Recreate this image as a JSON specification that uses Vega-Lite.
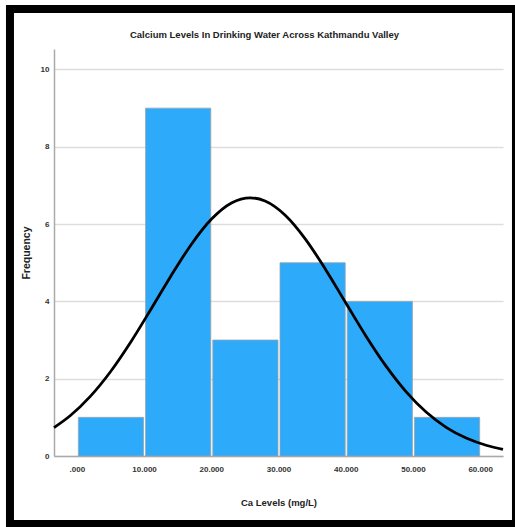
{
  "$schema": "https://vega.github.io/schema/vega-lite/v6.json",
  "autosize": {"type": "none"},
  "width": 449,
  "height": 407,
  "padding": {"left": 54, "top": 49, "right": 12, "bottom": 71},
  "background": "white",
  "title": {
    "text": "Calcium Levels In Drinking Water Across Kathmandu Valley",
    "font": "Liberation Sans Narrow, Arial Narrow, Liberation Sans, sans-serif",
    "fontSize": 9.5,
    "fontWeight": "bold",
    "color": "#222222",
    "anchor": "middle",
    "frame": "group",
    "dx": -14,
    "offset": -35
  },
  "datasets": {
    "bins": [
      {"start": 0, "end": 10, "count": 1},
      {"start": 10, "end": 20, "count": 9},
      {"start": 20, "end": 30, "count": 3},
      {"start": 30, "end": 40, "count": 5},
      {"start": 40, "end": 50, "count": 4},
      {"start": 50, "end": 60, "count": 1}
    ],
    "normal": [
      {"ca": -3.4, "freq": 0.735},
      {"ca": -1, "freq": 1.041},
      {"ca": 2, "freq": 1.542},
      {"ca": 5, "freq": 2.18},
      {"ca": 8, "freq": 2.943},
      {"ca": 11, "freq": 3.79},
      {"ca": 14, "freq": 4.659},
      {"ca": 17, "freq": 5.467},
      {"ca": 20, "freq": 6.123},
      {"ca": 23, "freq": 6.546},
      {"ca": 25.8, "freq": 6.68},
      {"ca": 28, "freq": 6.597},
      {"ca": 31, "freq": 6.229},
      {"ca": 34, "freq": 5.613},
      {"ca": 37, "freq": 4.828},
      {"ca": 40, "freq": 3.965},
      {"ca": 43, "freq": 3.107},
      {"ca": 46, "freq": 2.324},
      {"ca": 49, "freq": 1.659},
      {"ca": 52, "freq": 1.13},
      {"ca": 55, "freq": 0.735},
      {"ca": 58, "freq": 0.457},
      {"ca": 61, "freq": 0.271},
      {"ca": 63.4, "freq": 0.172}
    ]
  },
  "layer": [
    {
      "data": {"name": "bins"},
      "mark": {"type": "bar", "color": "#2eaafa", "stroke": "#9aa3ab", "strokeWidth": 0.8, "binSpacing": 2},
      "encoding": {
        "x": {
          "field": "start",
          "type": "quantitative",
          "bin": {"binned": true, "step": 10},
          "scale": {"domain": [-3.4, 63.4], "nice": false, "zero": false},
          "axis": {
            "title": "Ca Levels (mg/L)",
            "values": [0, 10, 20, 30, 40, 50, 60],
            "labelExpr": "datum.value == 0 ? '.000' : format(datum.value, '.3f')",
            "grid": false
          }
        },
        "x2": {"field": "end"},
        "y": {
          "field": "count",
          "type": "quantitative",
          "scale": {"domain": [0, 10.53], "nice": false},
          "axis": {"title": "Frequency", "values": [0, 2, 4, 6, 8, 10], "format": "d"}
        }
      }
    },
    {
      "data": {"name": "normal"},
      "mark": {"type": "line", "color": "#000000", "strokeWidth": 2.8, "interpolate": "monotone"},
      "encoding": {
        "x": {"field": "ca", "type": "quantitative"},
        "y": {"field": "freq", "type": "quantitative"}
      }
    },
    {
      "data": {"values": [{}]},
      "mark": {"type": "rect", "filled": false, "stroke": "#000000", "strokeWidth": 8, "clip": false},
      "encoding": {
        "x": {"datum": -9.95, "type": "quantitative"},
        "x2": {"datum": 65.33},
        "y": {"datum": 11.565, "type": "quantitative"},
        "y2": {"datum": -1.759}
      }
    }
  ],
  "config": {
    "view": {"stroke": null},
    "axis": {
      "labelFont": "Liberation Sans Narrow, Arial Narrow, Liberation Sans, sans-serif",
      "labelFontSize": 8,
      "labelFontWeight": "bold",
      "labelColor": "#333333",
      "titleFont": "Liberation Sans Narrow, Arial Narrow, Liberation Sans, sans-serif",
      "titleFontSize": 9.5,
      "titleFontWeight": "bold",
      "titleColor": "#222222",
      "domainColor": "#aaaaaa",
      "domainWidth": 1.5,
      "ticks": false,
      "gridColor": "#dddddd",
      "gridWidth": 1.5
    },
    "axisX": {"labelPadding": 9, "titlePadding": 24, "labelFlush": false},
    "axisY": {"labelPadding": 5, "titlePadding": 9, "titleFontSize": 10.5, "titleFont": "Liberation Sans, Arial, sans-serif"}
  }
}
